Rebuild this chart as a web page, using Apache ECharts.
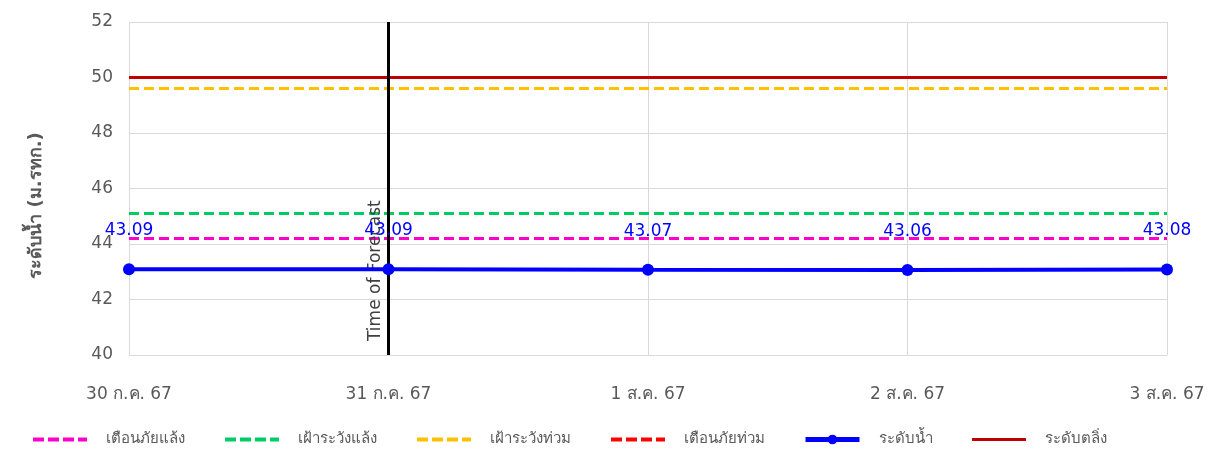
<!DOCTYPE html>
<html><head><meta charset="utf-8">
<script src="https://cdn.jsdelivr.net/npm/echarts@6/dist/echarts.min.js"></script>
<style>html,body{margin:0;padding:0;background:#fff}#c{width:1219px;height:453px}</style>
</head><body><div id="c"></div>
<script>
const categories = ['30 ก.ค. 67', '31 ก.ค. 67', '1 ส.ค. 67', '2 ส.ค. 67', '3 ส.ค. 67'];
const waterLevel = [43.09, 43.09, 43.07, 43.06, 43.08];
const droughtWarning = 44.2;   // เตือนภัยแล้ง
const droughtWatch = 45.1;     // เฝ้าระวังแล้ง
const floodWatch = 49.6;       // เฝ้าระวังท่วม
const floodWarning = 50.0;     // เตือนภัยท่วม
const bankLevel = 50.0;        // ระดับตลิ่ง
const forecastDate = '31 ก.ค. 67';
const yTicks = {min: 40, max: 52, interval: 2};

const font = 'Tahoma, "DejaVu Sans", "Noto Sans", sans-serif';
const flat = v => categories.map(() => v);
function dashed(name, v, color) {
  return {name, type: 'line', data: flat(v), symbol: 'none', silent: true,
    lineStyle: {color, width: 3, type: [10, 5]}, itemStyle: {color}};
}
const noDot = name => ({name, itemStyle: {opacity: 0}, lineStyle: {width: 4, type: [11, 4]}});
const chart = echarts.init(document.getElementById('c'));
chart.setOption({
  animation: false,
  textStyle: {fontFamily: font},
  grid: {left: 129, right: 52, top: 22, bottom: 98},
  legend: {
    bottom: 1, left: 26, itemWidth: 54, itemHeight: 12, itemGap: 38,
    textStyle: {color: '#595959', fontSize: 15, fontFamily: font, padding: [0, 0, 0, 14]},
    data: [noDot('เตือนภัยแล้ง'), noDot('เฝ้าระวังแล้ง'), noDot('เฝ้าระวังท่วม'), noDot('เตือนภัยท่วม'),
      {name: 'ระดับน้ำ', itemStyle: {opacity: 1}, lineStyle: {width: 5}},
      {name: 'ระดับตลิ่ง', itemStyle: {opacity: 0}, lineStyle: {width: 3}}]
  },
  xAxis: {
    type: 'category', data: categories, boundaryGap: false,
    axisLine: {show: false}, axisTick: {show: false},
    axisLabel: {color: '#595959', fontSize: 17, margin: 31, fontFamily: font},
    splitLine: {show: true, lineStyle: {color: '#D9D9D9', width: 1}}
  },
  yAxis: {
    type: 'value', min: yTicks.min, max: yTicks.max, interval: yTicks.interval,
    axisLabel: {color: '#595959', fontSize: 17, margin: 16, fontFamily: font},
    axisLine: {show: false}, axisTick: {show: false},
    splitLine: {lineStyle: {color: '#D9D9D9', width: 1}},
    name: 'ระดับน้ำ (ม.รทก.)', nameLocation: 'middle', nameGap: 84,
    nameTextStyle: {color: '#595959', fontSize: 18, fontWeight: 'bold', fontFamily: font, padding: [0, 0, 0, -34]}
  },
  series: [
    dashed('เตือนภัยแล้ง', droughtWarning, '#FF00CC'),
    dashed('เฝ้าระวังแล้ง', droughtWatch, '#00CC66'),
    dashed('เฝ้าระวังท่วม', floodWatch, '#FFC000'),
    dashed('เตือนภัยท่วม', floodWarning, '#FF0000'),
    {name: 'ระดับตลิ่ง', type: 'line', data: flat(bankLevel), symbol: 'none', silent: true,
      lineStyle: {color: '#C00000', width: 3}, itemStyle: {color: '#C00000'}},
    {name: 'ระดับน้ำ', type: 'line', data: waterLevel, symbol: 'circle', symbolSize: 12,
      lineStyle: {color: '#0000FF', width: 4}, itemStyle: {color: '#0000FF'},
      label: {show: true, position: 'top', distance: 24, color: '#0000FF', fontSize: 17, fontFamily: font,
        formatter: p => p.value.toFixed(2)},
      z: 5,
      markLine: {
        silent: true, symbol: 'none', z: 4,
        lineStyle: {color: '#000000', width: 3, type: 'solid'},
        label: {show: true, position: 'insideStartTop', formatter: 'Time of Forecast', color: '#404040',
          fontSize: 17, fontFamily: font, distance: [14, 4]},
        data: [{xAxis: forecastDate}]
      }}
  ]
});
</script></body></html>
